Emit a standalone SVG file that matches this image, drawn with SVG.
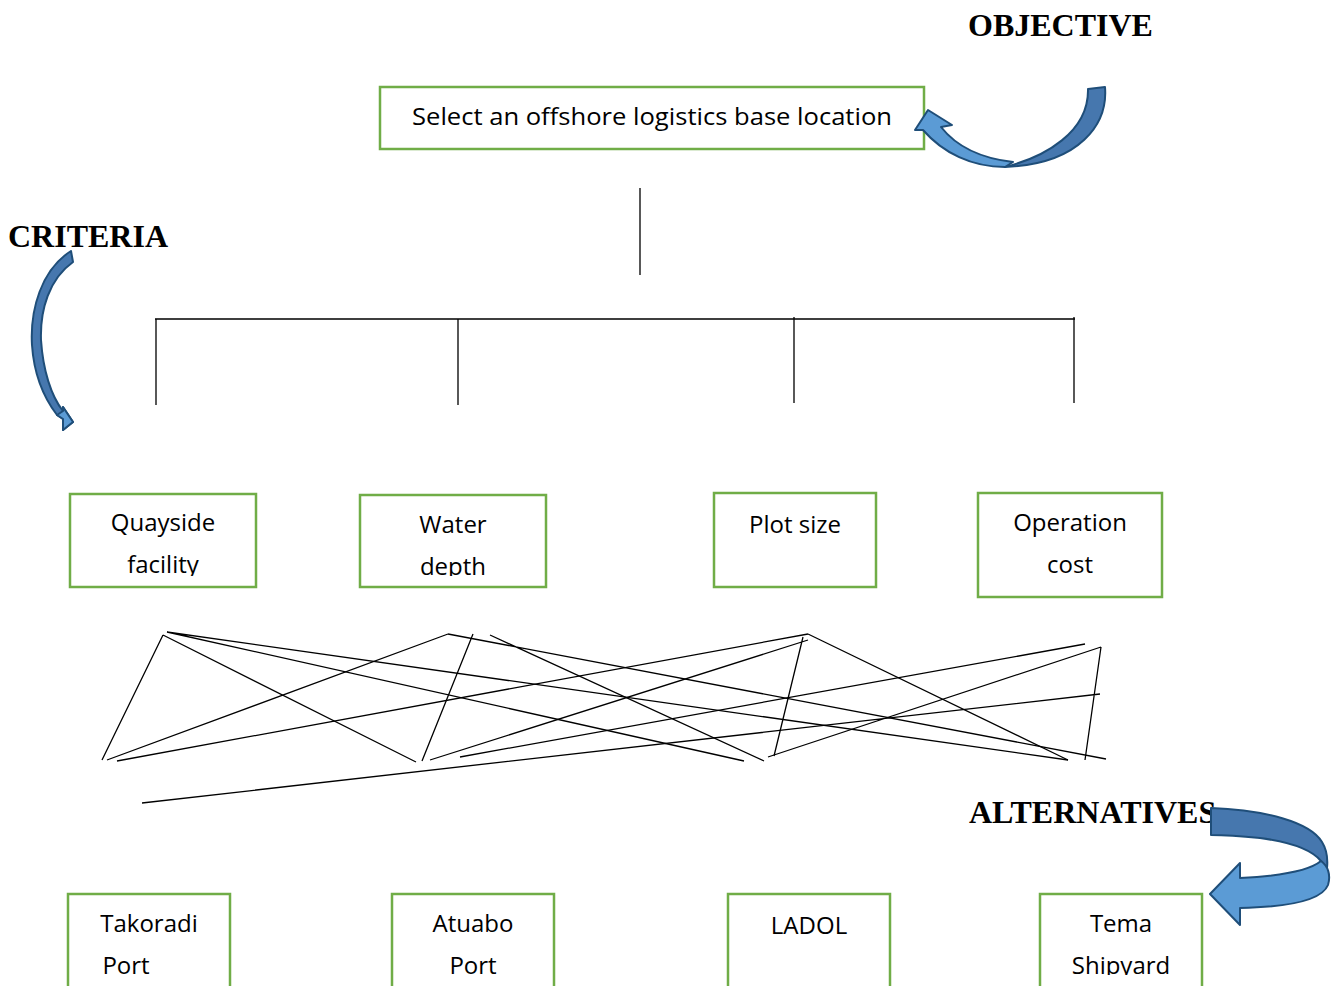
<svg xmlns="http://www.w3.org/2000/svg" width="1333" height="986" viewBox="0 0 1333 986">
<style>
.box{fill:#fff;stroke:#70AD47;stroke-width:2.5}
.t{font-family:"Open Sans","Liberation Sans",sans-serif;font-size:24px;fill:#000;text-anchor:middle}
.lbl{font-family:"Liberation Serif",serif;font-weight:bold;font-size:32px;fill:#000}
.ln{stroke:#000;stroke-width:1.3;fill:none}
.dark{fill:#4677AE;stroke:#1F4E79;stroke-width:2;stroke-linejoin:round}
.light{fill:#5B9BD5;stroke:#1F4E79;stroke-width:2;stroke-linejoin:round}
</style>
<defs>
<clipPath id="c1"><rect x="60" y="480" width="210" height="96"/></clipPath>
<clipPath id="c2"><rect x="350" y="480" width="210" height="96"/></clipPath>
<clipPath id="c4"><rect x="1030" y="880" width="190" height="95"/></clipPath>
</defs>
<rect width="1333" height="986" fill="#fff"/>

<text class="lbl" x="968" y="36">OBJECTIVE</text>
<text class="lbl" x="8" y="247">CRITERIA</text>
<text class="lbl" x="969" y="823">ALTERNATIVES</text>

<g id="connectors">
<path class="ln" d="M640,188V275 M155,319H1075 M156,319V405 M458,319V405 M794,317V403 M1074,317V403"/>
<path class="ln" d="M163,635L102,760 M163,635L416,762 M167,632L744,761 M167,632L1068,760"/>
<path class="ln" d="M448,634L107,760 M448,634L1106,759 M473,634L422,761 M490,635L764,761"/>
<path class="ln" d="M808,634L117,761 M808,640L430,760 M803,637L774,756 M808,634L1068,760"/>
<path class="ln" d="M1085,644L460,757 M1101,647L768,757 M1101,647L1085,760 M1100,694L142,803"/>
</g>

<g id="objective">
<rect class="box" x="380" y="87" width="544" height="62"/>
<text class="t" x="652" y="125" textLength="480" lengthAdjust="spacingAndGlyphs">Select an offshore logistics base location</text>
</g>

<g id="arrow-objective">
<path class="dark" d="M1088,89 L1105,87 C1108,124 1080,164 1005,167 C1045,157 1089,132 1088,89 Z"/>
<path class="light" d="M1005,167 C972,167 943,153 923,130 L915,130 L928,110 L952,125 L941,127 C956,146 978,158 1013,162 Z"/>
</g>

<g id="arrow-criteria">
<path class="dark" d="M71,251 C41,270 30,310 32,345 C34,375 44,398 57,415 L63,419 L63,430 L73,422 L63,407 L63,411 C51,396 43,370 41,340 C40,310 49,279 73,262 Z"/>
<path class="light" d="M57,415 L63,419 L63,430 L73,422 L63,407 L63,411 Z"/>
</g>

<g id="arrow-alternatives">
<path class="dark" d="M1211,808 C1265,810 1310,822 1322,842 C1327,850 1328,858 1327,868 L1321,861 C1312,850 1290,842 1260,838 C1240,836 1225,835 1211,835 Z"/>
<path class="light" d="M1240,878 C1280,876 1310,870 1321,861 C1328,866 1331,875 1328,885 C1322,900 1290,907 1240,908 L1240,925 L1210,894 L1240,863 Z"/>
</g>

<g id="quayside">
<rect class="box" x="70" y="494" width="186" height="93"/>
<g clip-path="url(#c1)">
<text class="t" x="163" y="531">Quayside</text>
<text class="t" x="163" y="573">facility</text>
</g>
</g>

<g id="waterdepth">
<rect class="box" x="360" y="495" width="186" height="92"/>
<g clip-path="url(#c2)">
<text class="t" x="453" y="533">Water</text>
<text class="t" x="453" y="575">depth</text>
</g>
</g>

<g id="plotsize">
<rect class="box" x="714" y="493" width="162" height="94"/>
<text class="t" x="795" y="533">Plot size</text>
</g>

<g id="operationcost">
<rect class="box" x="978" y="493" width="184" height="104"/>
<text class="t" x="1070" y="531">Operation</text>
<text class="t" x="1070" y="573">cost</text>
</g>

<g id="takoradi">
<rect class="box" x="68" y="894" width="162" height="100"/>
<text class="t" x="149" y="932">Takoradi</text>
<text class="t" x="126" y="974">Port</text>
</g>

<g id="atuabo">
<rect class="box" x="392" y="894" width="162" height="100"/>
<text class="t" x="473" y="932">Atuabo</text>
<text class="t" x="473" y="974">Port</text>
</g>

<g id="ladol">
<rect class="box" x="728" y="894" width="162" height="100"/>
<text class="t" x="809" y="934">LADOL</text>
</g>

<g id="tema">
<rect class="box" x="1040" y="894" width="162" height="100"/>
<g clip-path="url(#c4)">
<text class="t" x="1121" y="932">Tema</text>
<text class="t" x="1121" y="974">Shipyard</text>
</g>
</g>
</svg>
